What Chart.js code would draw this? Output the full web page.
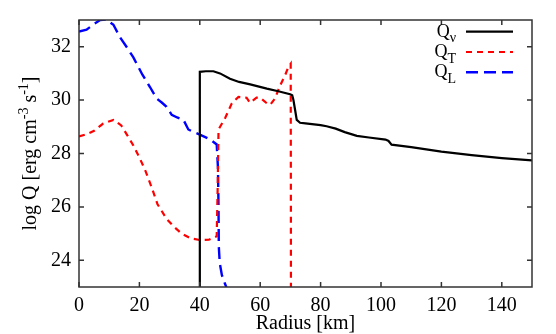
<!DOCTYPE html>
<html>
<head>
<meta charset="utf-8">
<script src="https://cdn.jsdelivr.net/npm/chart.js@4"></script>
<style>
    html, body { margin: 0; padding: 0; background: #fff; }
    #wrap { width: 556px; height: 334px; }
</style>
</head>
<body>
<div id="wrap"><canvas id="chart" width="556" height="334"></canvas></div>
<script>
// Q_nu (black solid)
const nuRadius = [40, 40.01, 42, 44.5, 46.7, 50, 53, 56.7, 62.2, 66, 69.9, 70.6, 71, 71.6, 72.1, 73.2, 75, 80, 82, 85, 88, 92, 96, 101.5, 102.5, 103.5, 110, 120, 130, 140, 150]
const nuLogQ = [20, 31.06, 31.08, 31.08, 31.0, 30.8, 30.68, 30.59, 30.43, 30.33, 30.22, 30.18, 30.0, 29.6, 29.26, 29.15, 29.13, 29.06, 29.02, 28.93, 28.8, 28.66, 28.6, 28.52, 28.47, 28.33, 28.24, 28.07, 27.94, 27.83, 27.74]

// Q_T (red short dashes)
const tRadius = [0, 2.5, 5, 8, 11.4, 14, 16, 18, 20, 22, 24, 26, 29, 31.5, 34, 37, 40, 43, 45.6, 45.9, 46.2, 48.4, 50.6, 52.8, 55.5, 56.6, 58.8, 60, 62.2, 63.3, 64.9, 66.6, 68.2, 69.3, 70.1, 70.15, 70.2]
const tLogQ = [28.64, 28.72, 28.85, 29.12, 29.26, 29.05, 28.68, 28.3, 27.85, 27.35, 26.75, 26.1, 25.55, 25.25, 25.0, 24.82, 24.76, 24.77, 24.9, 26.6, 28.9, 29.33, 29.88, 30.12, 30.09, 29.9, 30.09, 30.09, 29.88, 29.82, 30.06, 30.55, 30.92, 31.23, 31.36, 27, 20]

// Q_L (blue long dashes)
const lRadius = [0, 2.5, 5, 7, 9, 11.4, 13.6, 16, 18, 21, 23.5, 25.7, 27.5, 29, 30.7, 32.5, 34.6, 36.2, 38, 40, 43.4, 45.6, 46.0, 46.2, 46.3, 46.6, 47.3, 48.4, 49.5]
const lLogQ = [32.57, 32.64, 32.85, 33.0, 33.02, 32.82, 32.35, 31.95, 31.6, 30.95, 30.49, 30.06, 29.9, 29.75, 29.45, 29.35, 29.26, 28.9, 28.8, 28.71, 28.53, 28.34, 27.5, 26, 24.5, 23.9, 23.45, 23.1, 22.8]

const seriesSubs = ['ν', 'T', 'L']
const xTicks = [0, 20, 40, 60, 80, 100, 120, 140]
const yTicks = [24, 26, 28, 30, 32]

const serif = "'Liberation Serif', 'Times New Roman', serif"
const toPoints = (xs, ys) => xs.map((v, i) => ({ x: v, y: ys[i] }))

const datasets = [
    { data: toPoints(nuRadius, nuLogQ), borderColor: '#000000', borderWidth: 2.2, borderDash: [] },
    { data: toPoints(tRadius, tLogQ), borderColor: '#ff0000', borderWidth: 2.2, borderDash: [6, 5] },
    { data: toPoints(lRadius, lLogQ), borderColor: '#0000ff', borderWidth: 2.4, borderDash: [12, 6] },
]

// frame, inward ticks, legend with subscripts, y title with superscripts
const decoPlugin = {
    id: 'deco',
    afterDatasetsDraw(chart) {
        const { ctx, chartArea: a, scales: { x, y } } = chart
        ctx.save()
        ctx.strokeStyle = '#333'
        ctx.lineWidth = 1.5
        ctx.setLineDash([])
        ctx.beginPath()
        xTicks.forEach(v => {
            const px = x.getPixelForValue(v)
            ctx.moveTo(px, a.bottom); ctx.lineTo(px, a.bottom - 5)
            ctx.moveTo(px, a.top); ctx.lineTo(px, a.top + 5)
        })
        yTicks.forEach(v => {
            const py = y.getPixelForValue(v)
            ctx.moveTo(a.left, py); ctx.lineTo(a.left + 5, py)
            ctx.moveTo(a.right, py); ctx.lineTo(a.right - 5, py)
        })
        ctx.stroke()
        ctx.strokeRect(a.left, a.top, a.right - a.left, a.bottom - a.top)

        // legend
        ctx.fillStyle = '#000'
        ctx.textBaseline = 'alphabetic'
        seriesSubs.forEach((sub, i) => {
            const rowY = 31.7 + i * 20.3
            ctx.font = `18px ${serif}`
            const wQ = ctx.measureText('Q').width
            ctx.font = `14px ${serif}`
            const wS = ctx.measureText(sub).width
            const startX = 456 - wQ - wS
            ctx.font = `18px ${serif}`
            ctx.fillText('Q', startX, rowY + 5)
            ctx.font = `14px ${serif}`
            ctx.fillText(sub, startX + wQ, rowY + 10.5)
            const ds = datasets[i]
            ctx.strokeStyle = ds.borderColor
            ctx.lineWidth = ds.borderWidth
            ctx.setLineDash(ds.borderDash)
            ctx.beginPath()
            ctx.moveTo(466, rowY)
            ctx.lineTo(513, rowY)
            ctx.stroke()
        })
        ctx.setLineDash([])

        // y axis title
        const parts = [
            { t: 'log Q [erg cm', s: 20, dy: 0 },
            { t: '-3', s: 14, dy: -8 },
            { t: ' s', s: 20, dy: 0 },
            { t: '-1', s: 14, dy: -8 },
            { t: ']', s: 20, dy: 0 },
        ]
        let total = 0
        parts.forEach(p => { ctx.font = `${p.s}px ${serif}`; p.w = ctx.measureText(p.t).width; total += p.w })
        ctx.translate(35.5, (a.top + a.bottom) / 2)
        ctx.rotate(-Math.PI / 2)
        let cx = -total / 2
        parts.forEach(p => {
            ctx.font = `${p.s}px ${serif}`
            ctx.fillText(p.t, cx, p.dy)
            cx += p.w
        })
        ctx.restore()
    }
}

new Chart(document.getElementById('chart'), {
    type: 'scatter',
    data: {
        datasets: datasets.map(d => ({
            data: d.data,
            showLine: true,
            borderColor: d.borderColor,
            borderWidth: d.borderWidth,
            borderDash: d.borderDash,
            pointRadius: 0,
            tension: 0,
            fill: false,
        }))
    },
    options: {
        responsive: false,
        animation: false,
        devicePixelRatio: 1,
        layout: { padding: { top: 15, right: 24, left: 0, bottom: -2 } },
        plugins: {
            legend: { display: false },
            tooltip: { enabled: false },
        },
        scales: {
            x: {
                type: 'linear',
                min: 0,
                max: 150,
                afterBuildTicks: s => { s.ticks = xTicks.map(v => ({ value: v })) },
                afterFit: s => { s.height = 49 },
                grid: { display: false, drawTicks: false },
                border: { display: false },
                ticks: { color: '#000', padding: 7, maxRotation: 0, font: { family: serif, size: 20 } },
                title: { display: true, text: 'Radius [km]', color: '#000', padding: 0, font: { family: serif, size: 20 } },
            },
            y: {
                type: 'linear',
                min: 23,
                max: 33,
                afterBuildTicks: s => { s.ticks = yTicks.map(v => ({ value: v })) },
                afterFit: s => { s.width = 79 },
                grid: { display: false, drawTicks: false },
                border: { display: false },
                ticks: { color: '#000', padding: 8, font: { family: serif, size: 20 } },
            },
        },
    },
    plugins: [decoPlugin],
})
</script>
</body>
</html>
